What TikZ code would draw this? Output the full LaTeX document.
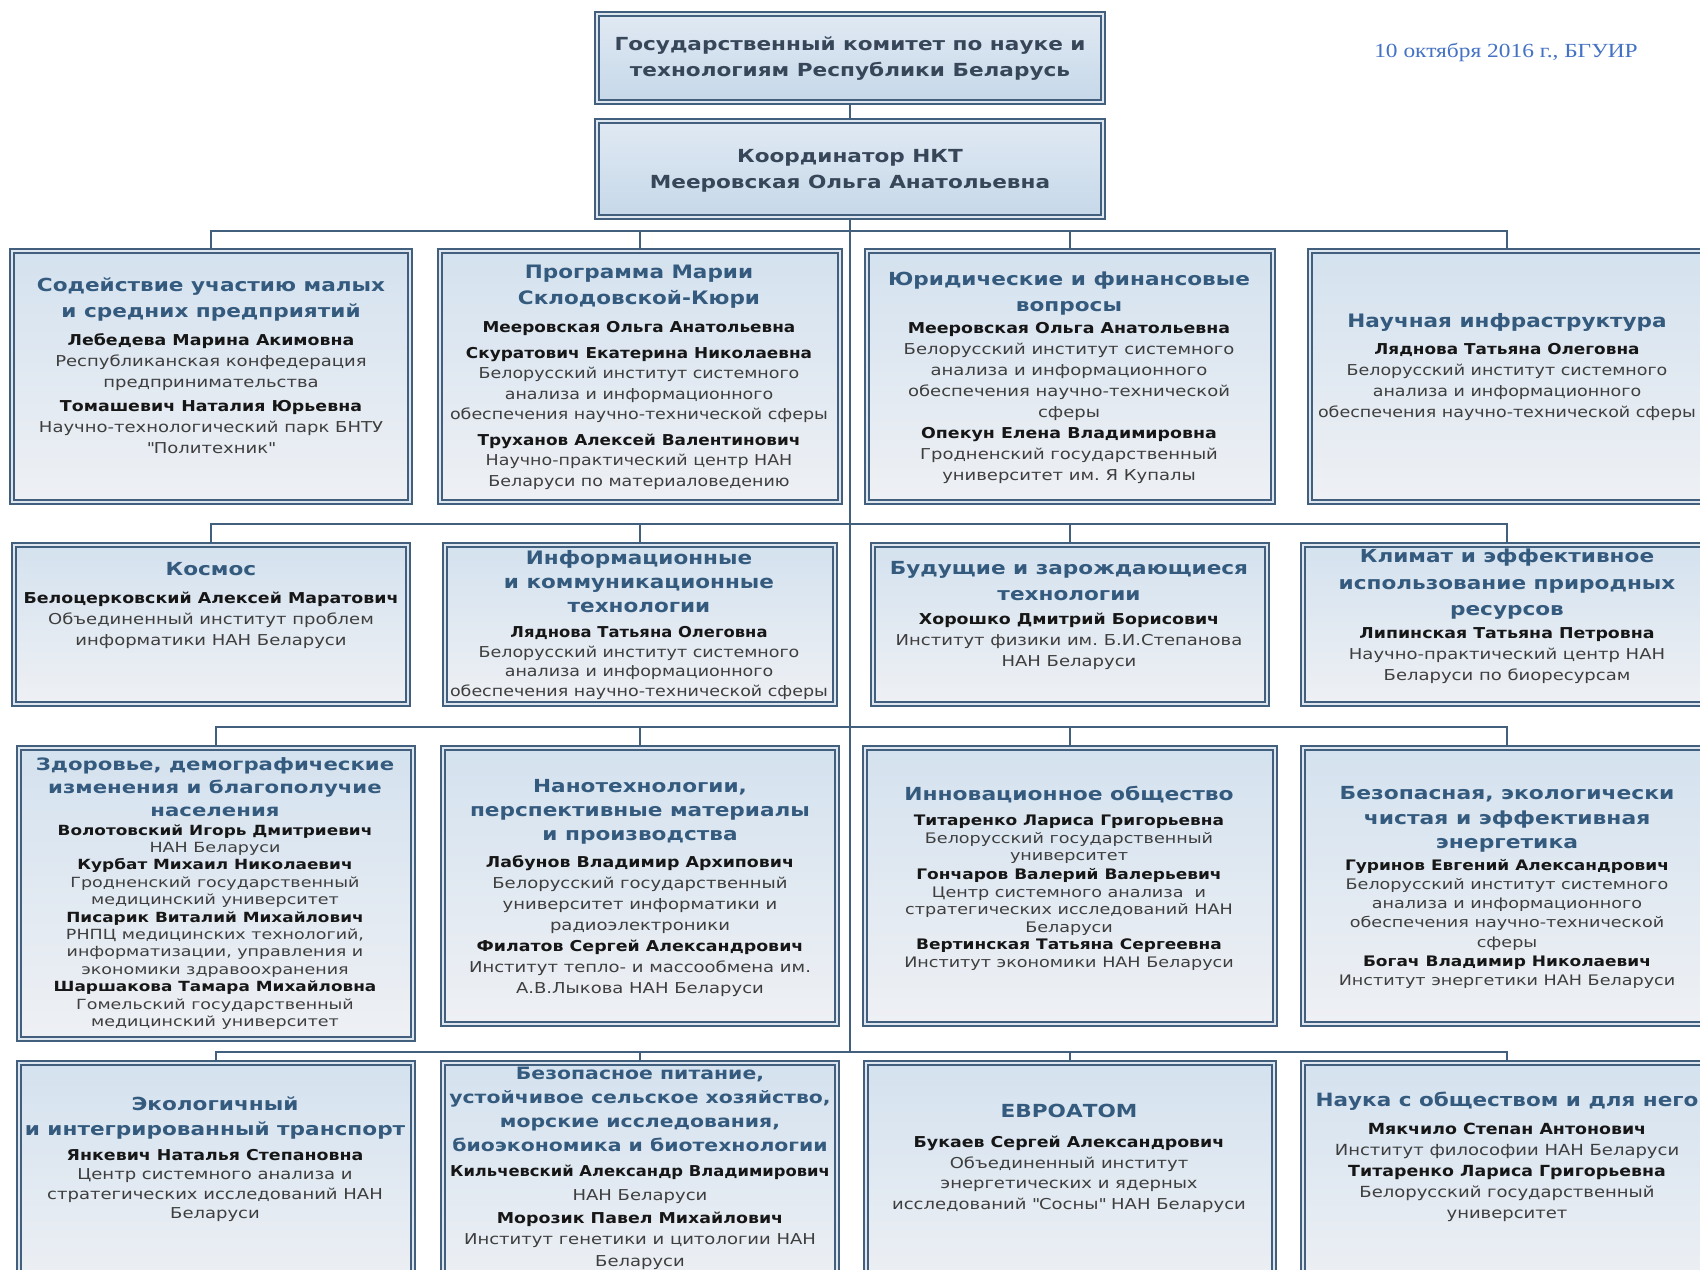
\documentclass[tikz,border=0pt]{standalone}
\usepackage{fontspec}
\usepackage{graphicx}
\setmainfont{DejaVu Sans}[FakeStretch=1.2, Ligatures=ResetAll]
\newfontfamily\namefont{DejaVu Sans}[FakeStretch=1.16, Ligatures=ResetAll]
\newfontfamily\datefont{Liberation Serif}[FakeStretch=1.17]
\usetikzlibrary{shadows}
\frenchspacing
\definecolor{bord}{RGB}{66,96,126}
\definecolor{dblc}{RGB}{222,231,240}
\definecolor{ftop}{RGB}{212,226,239}
\definecolor{fbot}{RGB}{238,240,244}
\definecolor{htop}{RGB}{224,233,243}
\definecolor{hbot}{RGB}{198,216,233}
\definecolor{ttl}{RGB}{52,90,126}
\definecolor{topc}{RGB}{55,70,88}
\definecolor{nmc}{RGB}{22,22,22}
\definecolor{afc}{RGB}{62,62,62}
\definecolor{datec}{RGB}{68,114,196}
\newcommand\qq{\XeTeXglyph5\relax}
\newcommand\tb[5]{\scalebox{#1}[1]{\def\tsz{#2}\def\bsz{#3}\fontsize{#3}{#4}\selectfont\begin{tabular}{@{}c@{}}#5\end{tabular}}}
\newcommand\Tt{\color{ttl}\bfseries\fontsize{\tsz}{\tsz}\selectfont}
\newcommand\Hd{\color{topc}\bfseries\fontsize{\tsz}{\tsz}\selectfont}
\newcommand\Nm{\color{nmc}\namefont\bfseries\fontsize{\bsz}{\bsz}\selectfont}
\newcommand\Af{\color{afc}\fontsize{\bsz}{\bsz}\selectfont}
\begin{document}
\begin{tikzpicture}[x=1pt,y=-1pt,
  bx/.style={rectangle, draw=bord, line width=1.3pt, double=dblc, double distance=2.6pt,
    top color=ftop, bottom color=fbot, inner sep=0pt,
    drop shadow={shadow xshift=3pt, shadow yshift=-3pt, fill=black, opacity=0.22}},
  hbx/.style={bx, top color=htop, bottom color=hbot},
  txt/.style={inner sep=0pt, anchor=center},
  conn/.style={draw=bord, line width=2pt}]
\useasboundingbox (0,0) rectangle (1700,1269);
\fill[white] (0,0) rectangle (1700,1269);
% ---------- boxes ----------
\node[hbx, minimum width=506pt, minimum height=88pt] (tb) at (850,58) {};
\node[hbx, minimum width=506pt, minimum height=96pt] (co) at (850,169) {};
\node[bx, minimum width=398pt, minimum height=251pt] (r1a) at (211,376.5) {};
\node[bx, minimum width=400pt, minimum height=251pt] (r1b) at (640,376.5) {};
\node[bx, minimum width=406pt, minimum height=251pt] (r1c) at (1070,376.5) {};
\node[bx, minimum width=394pt, minimum height=251pt] (r1d) at (1507,376.5) {};
\node[bx, minimum width=394pt, minimum height=159pt] (r2a) at (211,624.5) {};
\node[bx, minimum width=390pt, minimum height=159pt] (r2b) at (640,624.5) {};
\node[bx, minimum width=394pt, minimum height=159pt] (r2c) at (1070,624.5) {};
\node[bx, minimum width=408pt, minimum height=159pt] (r2d) at (1507,624.5) {};
\node[bx, minimum width=394pt, minimum height=291pt] (r3a) at (216,893.5) {};
\node[bx, minimum width=394pt, minimum height=276pt] (r3b) at (640,886) {};
\node[bx, minimum width=410pt, minimum height=276pt] (r3c) at (1070,886) {};
\node[bx, minimum width=408pt, minimum height=276pt] (r3d) at (1507,886) {};
\node[bx, minimum width=394pt, minimum height=234pt] (r4a) at (216,1180) {};
\node[bx, minimum width=394pt, minimum height=234pt] (r4b) at (640,1180) {};
\node[bx, minimum width=408pt, minimum height=234pt] (r4c) at (1070,1180) {};
\node[bx, minimum width=408pt, minimum height=234pt] (r4d) at (1507,1180) {};
% ---------- connectors ----------
\coordinate (k1) at (850,231);
\coordinate (k2) at (850,524);
\coordinate (k3) at (850,727);
\coordinate (k4) at (850,1052);
\draw[conn] (tb.south) -- (co.north);
\draw[conn] (co.south) -- (k4);
\draw[conn] (r1a.north) |- (k1) -| (r1d.north);
\draw[conn] (r1b.north) -- (r1b.north |- k1);
\draw[conn] (r1c.north) -- (r1c.north |- k1);
\draw[conn] (r2a.north) |- (k2) -| (r2d.north);
\draw[conn] (r2b.north) -- (r2b.north |- k2);
\draw[conn] (r2c.north) -- (r2c.north |- k2);
\draw[conn] (r3a.north) |- (k3) -| (r3d.north);
\draw[conn] (r3b.north) -- (r3b.north |- k3);
\draw[conn] (r3c.north) -- (r3c.north |- k3);
\draw[conn] (r4a.north) |- (k4) -| (r4d.north);
\draw[conn] (r4b.north) -- (r4b.north |- k4);
\draw[conn] (r4c.north) -- (r4c.north |- k4);
% ---------- date ----------
\node[txt, text=datec, font=\datefont\fontsize{20}{20}\selectfont] (date) at (1506,52) {10 октября 2016 г., БГУИР};
% ---------- texts ----------
\node[txt] (tb-t) at (850,58) {\tb{1}{18}{18}{26}{%
\Hd Государственный комитет по науке и\\
\Hd технологиям Республики Беларусь}};
\node[txt] (co-t) at (850,170) {\tb{1}{18}{18}{26}{%
\Hd Координатор НКТ\\
\Hd Мееровская Ольга Анатольевна}};
% row 1
\node[txt] (r1a-t) at (211,368.5) {\tb{1}{18}{15}{21}{%
\Tt Содействие участию малых\\[5pt]
\Tt и средних предприятий\\[7pt]
\Nm Лебедева Марина Акимовна\\
\Af Республиканская конфедерация\\
\Af предпринимательства\\[3pt]
\Nm Томашевич Наталия Юрьевна\\
\Af Научно-технологический парк БНТУ\\
\Af \qq Политехник\qq}};
\node[txt] (r1b-t) at (639,378.5) {\tb{0.97}{18.5}{15}{20.5}{%
\Tt Программа Марии\\[5.5pt]
\Tt Склодовской-Кюри\\[7.5pt]
\Nm Мееровская Ольга Анатольевна\\[5pt]
\Nm Скуратович Екатерина Николаевна\\
\Af Белорусский институт системного\\
\Af анализа и информационного\\
\Af обеспечения научно-технической сферы\\[5pt]
\Nm Труханов Алексей Валентинович\\
\Af Научно-практический центр НАН\\
\Af Беларуси по материаловедению}};
\node[txt] (r1c-t) at (1069,379) {\tb{1}{18}{15}{21}{%
\Tt Юридические и финансовые\\[5pt]
\Tt вопросы\\[1pt]
\Nm Мееровская Ольга Анатольевна\\
\Af Белорусский институт системного\\
\Af анализа и информационного\\
\Af обеспечения научно-технической\\
\Af сферы\\
\Nm Опекун Елена Владимировна\\
\Af Гродненский государственный\\
\Af университет им. Я Купалы}};
\node[txt] (r1d-t) at (1507,368.5) {\tb{0.97}{18.5}{15}{21}{%
\Tt Научная инфраструктура\\[6pt]
\Nm Ляднова Татьяна Олеговна\\
\Af Белорусский институт системного\\
\Af анализа и информационного\\
\Af обеспечения научно-технической сферы}};
% row 2
\node[txt] (r2a-t) at (211,606) {\tb{1}{18}{15}{21}{%
\Tt Космос\\[7pt]
\Nm Белоцерковский Алексей Маратович\\
\Af Объединенный институт проблем\\
\Af информатики НАН Беларуси}};
\node[txt] (r2b-t) at (639,626.5) {\tb{0.97}{18.5}{15}{19.5}{%
\Tt Информационные\\[4.5pt]
\Tt и коммуникационные\\[4.5pt]
\Tt технологии\\[5.5pt]
\Nm\scalebox{0.97}[1]{Ляднова Татьяна Олеговна}\\
\Af Белорусский институт системного\\
\Af анализа и информационного\\
\Af обеспечения научно-технической сферы}};
\node[txt] (r2c-t) at (1069,616.5) {\tb{1}{18}{15}{21}{%
\Tt Будущие и зарождающиеся\\[5pt]
\Tt технологии\\[3pt]
\Nm Хорошко Дмитрий Борисович\\
\Af Институт физики им. Б.И.Степанова\\
\Af НАН Беларуси}};
\node[txt] (r2d-t) at (1507,617) {\tb{1}{18}{15}{21}{%
\Tt Климат и эффективное\\[6pt]
\Tt использование природных\\[5pt]
\Tt ресурсов\\[2pt]
\Nm Липинская Татьяна Петровна\\
\Af Научно-практический центр НАН\\
\Af Беларуси по биоресурсам}};
% row 3
\node[txt] (r3a-t) at (215,894.5) {\tb{1.04}{17}{14}{17.4}{%
\Tt Здоровье, демографические\\[5pt]
\Tt изменения и благополучие\\[5pt]
\Tt населения\\[1.5pt]
\Nm Волотовский Игорь Дмитриевич\\
\Af НАН Беларуси\\
\Nm Курбат Михаил Николаевич\\
\Af Гродненский государственный\\
\Af медицинский университет\\
\Nm Писарик Виталий Михайлович\\
\Af РНПЦ медицинских технологий,\\
\Af информатизации, управления и\\
\Af экономики здравоохранения\\
\Nm Шаршакова Тамара Михайловна\\
\Af Гомельский государственный\\
\Af медицинский университет}};
\node[txt] (r3b-t) at (640,889) {\tb{1}{18}{15}{21}{%
\Tt Нанотехнологии,\\[3pt]
\Tt перспективные материалы\\[3pt]
\Tt и производства\\[6pt]
\Nm Лабунов Владимир Архипович\\
\Af Белорусский государственный\\
\Af университет информатики и\\
\Af радиоэлектроники\\
\Nm Филатов Сергей Александрович\\
\Af Институт тепло- и массообмена им.\\
\Af А.В.Лыкова НАН Беларуси}};
\node[txt] (r3c-t) at (1069,879.5) {\tb{1.01}{18}{14.5}{17.5}{%
\Tt Инновационное общество\\[7.5pt]
\Nm Титаренко Лариса Григорьевна\\
\Af Белорусский государственный\\
\Af университет\\[1.5pt]
\Nm Гончаров Валерий Валерьевич\\
\Af Центр системного анализа\ \ и\\
\Af стратегических исследований НАН\\
\Af Беларуси\\
\Nm Вертинская Татьяна Сергеевна\\
\Af Институт экономики НАН Беларуси}};
\node[txt] (r3d-t) at (1507,889) {\tb{1.01}{18}{14.5}{19.3}{%
\Tt Безопасная, экологически\\[5.5pt]
\Tt чистая и эффективная\\[4pt]
\Tt энергетика\\[2.5pt]
\Nm Гуринов Евгений Александрович\\
\Af Белорусский институт системного\\
\Af анализа и информационного\\
\Af обеспечения научно-технической\\
\Af сферы\\
\Nm Богач Владимир Николаевич\\
\Af Институт энергетики НАН Беларуси}};
% row 4
\node[txt] (r4a-t) at (215,1160.5) {\tb{1}{18}{15}{19.5}{%
\Tt Экологичный\\[5.5pt]
\Tt и интегрированный транспорт\\[5.5pt]
\Nm Янкевич Наталья Степановна\\
\Af Центр системного анализа и\\
\Af стратегических исследований НАН\\
\Af Беларуси}};
\node[txt] (r4b-t) at (640,1168.5) {\tb{1}{17}{15}{21.5}{%
\Tt Безопасное питание,\\[2.5pt]
\Tt устойчивое сельское хозяйство,\\[2.5pt]
\Tt морские исследования,\\[2.5pt]
\Tt биоэкономика и биотехнологии\\[3.5pt]
\Nm\scalebox{0.94}[1]{Кильчевский Александр Владимирович}\\[2.5pt]
\Af НАН Беларуси\\[1.5pt]
\Nm Морозик Павел Михайлович\\
\Af Институт генетики и цитологии НАН\\
\Af Беларуси}};
\node[txt] (r4c-t) at (1069,1159.5) {\tb{1}{18}{15}{20.5}{%
\Tt ЕВРОАТОМ\\[9.5pt]
\Nm Букаев Сергей Александрович\\
\Af Объединенный институт\\
\Af энергетических и ядерных\\
\Af исследований \qq Сосны\qq{} НАН Беларуси}};
\node[txt] (r4d-t) at (1507,1158.5) {\tb{0.98}{18.3}{15.3}{21}{%
\Tt Наука с обществом и для него\\[7pt]
\Nm Мякчило Степан Антонович\\
\Af Институт философии НАН Беларуси\\
\Nm Титаренко Лариса Григорьевна\\
\Af Белорусский государственный\\
\Af университет}};
\end{tikzpicture}
\end{document}
